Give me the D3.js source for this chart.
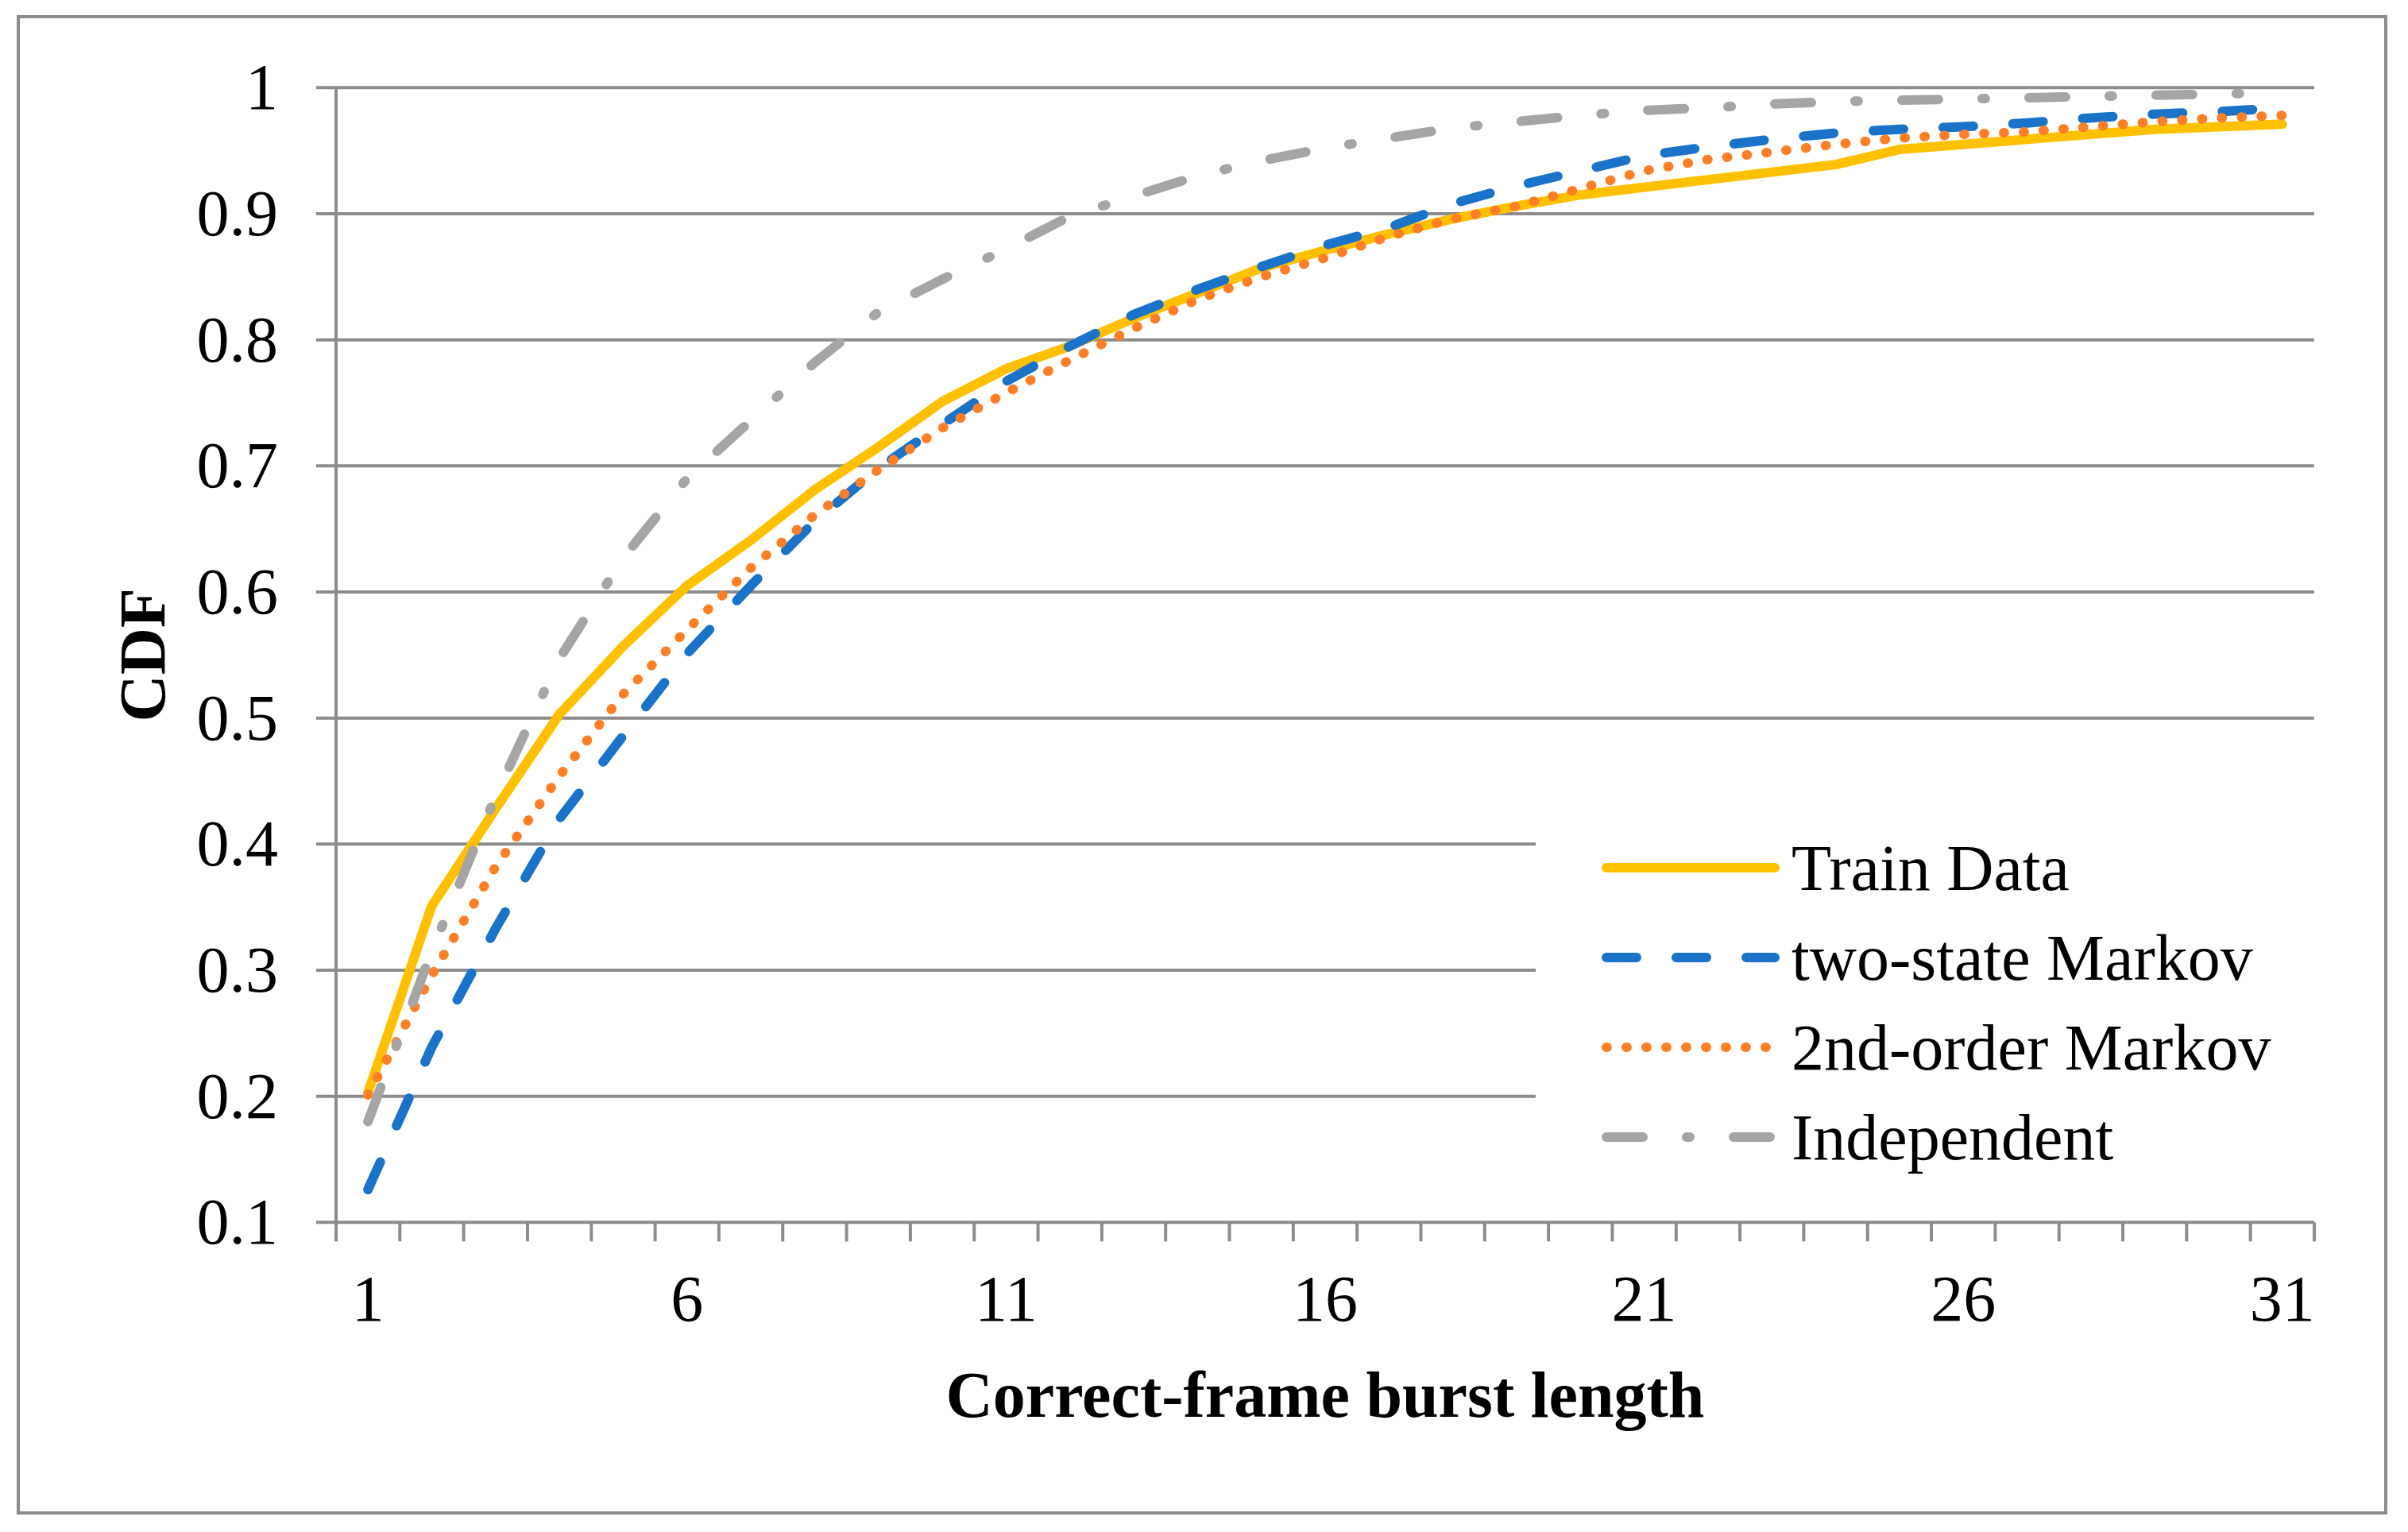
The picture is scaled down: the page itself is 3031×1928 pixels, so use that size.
<!DOCTYPE html>
<html>
<head>
<meta charset="utf-8">
<script src="https://cdn.jsdelivr.net/npm/d3@7"></script>
<style>
  html, body { margin: 0; padding: 0; background: #ffffff; }
  svg { display: block; }
  text { font-family: "Liberation Serif", "Times New Roman", serif; fill: #000; }
</style>
</head>
<body>
<svg id="chart" width="3031" height="1928"></svg>
<script>
const categories = [1,2,3,4,5,6,7,8,9,10,11,12,13,14,15,16,17,18,19,20,21,22,23,24,25,26,27,28,29,30,31];

const trainData = [0.203, 0.351, 0.428, 0.503, 0.557, 0.605, 0.641, 0.681, 0.715, 0.751, 0.777, 0.795, 0.817, 0.837, 0.857, 0.871, 0.884, 0.896, 0.906, 0.915, 0.921, 0.927, 0.933, 0.939, 0.951, 0.955, 0.959, 0.963, 0.967, 0.969, 0.971];
const twoStateMarkov = [0.126, 0.239, 0.333, 0.420, 0.486, 0.551, 0.605, 0.656, 0.698, 0.733, 0.767, 0.795, 0.820, 0.840, 0.858, 0.875, 0.889, 0.908, 0.922, 0.934, 0.946, 0.953, 0.959, 0.964, 0.967, 0.969, 0.972, 0.976, 0.979, 0.981, 0.984];
const secondOrderMarkov = [0.201, 0.296, 0.382, 0.454, 0.519, 0.570, 0.619, 0.661, 0.697, 0.730, 0.758, 0.784, 0.809, 0.832, 0.850, 0.865, 0.882, 0.896, 0.906, 0.920, 0.934, 0.943, 0.949, 0.955, 0.960, 0.963, 0.965, 0.969, 0.973, 0.976, 0.978];
const independent = [0.180, 0.315, 0.438, 0.547, 0.627, 0.690, 0.736, 0.782, 0.822, 0.848, 0.872, 0.898, 0.914, 0.930, 0.942, 0.952, 0.960, 0.968, 0.973, 0.978, 0.982, 0.984, 0.987, 0.989, 0.990, 0.991, 0.992, 0.993, 0.994, 0.995, 0.996];

const seriesNames = ["Train Data", "two-state Markov", "2nd-order Markov", "Independent"];
const yTickValues = [0.1, 0.2, 0.3, 0.4, 0.5, 0.6, 0.7, 0.8, 0.9, 1];
const yTickLabels = ["0.1", "0.2", "0.3", "0.4", "0.5", "0.6", "0.7", "0.8", "0.9", "1"];
const xTickLabels = [1, 6, 11, 16, 21, 26, 31];
const xTitle = "Correct-frame burst length";
const yTitle = "CDF";

const seriesValues = [trainData, twoStateMarkov, secondOrderMarkov, independent];
const seriesStyles = [
  { color: "#FFC000", dash: null },
  { color: "#1A73C9", dash: "38,50" },
  { color: "#FF7F27", dash: "1,24" },
  { color: "#A5A5A5", dash: "46,55,4,55" }
];

const svg = d3.select("#chart");
const gridColor = "#8C8C8C";
const fontSize = 82;

// outer border
svg.append("rect").attr("x", 23).attr("y", 21).attr("width", 2980).attr("height", 1883)
  .attr("fill", "#fff").attr("stroke", gridColor).attr("stroke-width", 4);

const plot = { left: 423, right: 2913, top: 110.3, bottom: 1538.3 };

const x = d3.scaleBand().domain(categories).range([plot.left, plot.right]).padding(0);
const y = d3.scaleLinear().domain([0.1, 1]).range([plot.bottom, plot.top]);

// horizontal gridlines (with left tick stubs)
svg.append("g").selectAll("line").data(yTickValues.filter(v => v !== 0.1)).join("line")
  .attr("x1", plot.left - 25).attr("x2", plot.right)
  .attr("y1", d => y(d)).attr("y2", d => y(d))
  .attr("stroke", gridColor).attr("stroke-width", 4);

// y axis line
svg.append("line").attr("x1", plot.left).attr("x2", plot.left)
  .attr("y1", plot.top).attr("y2", plot.bottom + 24)
  .attr("stroke", gridColor).attr("stroke-width", 4);

// x axis line
svg.append("line").attr("x1", plot.left - 25).attr("x2", plot.right)
  .attr("y1", plot.bottom).attr("y2", plot.bottom)
  .attr("stroke", gridColor).attr("stroke-width", 4);

// x ticks at category boundaries
const boundaries = categories.map(c => x(c)).concat([x(categories[categories.length - 1]) + x.bandwidth()]);
svg.append("g").selectAll("line").data(boundaries).join("line")
  .attr("x1", d => d).attr("x2", d => d)
  .attr("y1", plot.bottom).attr("y2", plot.bottom + 24)
  .attr("stroke", gridColor).attr("stroke-width", 4);

// y tick labels
svg.append("g").selectAll("text").data(yTickValues).join("text")
  .attr("x", 350).attr("y", d => y(d) + 27)
  .attr("text-anchor", "end").attr("font-size", fontSize)
  .text((d, i) => yTickLabels[i]);

// x tick labels
svg.append("g").selectAll("text").data(xTickLabels).join("text")
  .attr("x", d => x(d) + x.bandwidth() / 2).attr("y", plot.bottom + 124)
  .attr("text-anchor", "middle").attr("font-size", fontSize)
  .text(d => d);

// axis titles
svg.append("text").attr("x", (plot.left + plot.right) / 2).attr("y", 1783)
  .attr("text-anchor", "middle").attr("font-size", fontSize).attr("font-weight", "bold")
  .text(xTitle);
svg.append("text").attr("transform", `translate(207,${(plot.top + plot.bottom) / 2}) rotate(-90)`)
  .attr("text-anchor", "middle").attr("font-size", fontSize).attr("font-weight", "bold")
  .text(yTitle);

// series lines
const line = d3.line()
  .x((d, i) => x(categories[i]) + x.bandwidth() / 2)
  .y(d => y(d));

seriesValues.forEach((vals, k) => {
  const st = seriesStyles[k];
  const p = svg.append("path").datum(vals)
    .attr("d", line)
    .attr("fill", "none")
    .attr("stroke", st.color)
    .attr("stroke-width", 12)
    .attr("stroke-linecap", "round")
    .attr("stroke-linejoin", "round");
  if (st.dash) p.attr("stroke-dasharray", st.dash);
});

// legend
svg.append("rect").attr("x", 1933).attr("y", 1010).attr("width", 990).attr("height", 480).attr("fill", "#fff");
const legendY = [1092, 1205, 1318, 1431];
const lg = svg.append("g");
seriesNames.forEach((name, k) => {
  const st = seriesStyles[k];
  const l = lg.append("line")
    .attr("x1", 2022).attr("x2", 2234)
    .attr("y1", legendY[k]).attr("y2", legendY[k])
    .attr("stroke", st.color).attr("stroke-width", 12)
    .attr("stroke-linecap", "round");
  if (st.dash) l.attr("stroke-dasharray", st.dash);
  lg.append("text").attr("x", 2255).attr("y", legendY[k] + 28)
    .attr("font-size", fontSize).text(name);
});
</script>
</body>
</html>
